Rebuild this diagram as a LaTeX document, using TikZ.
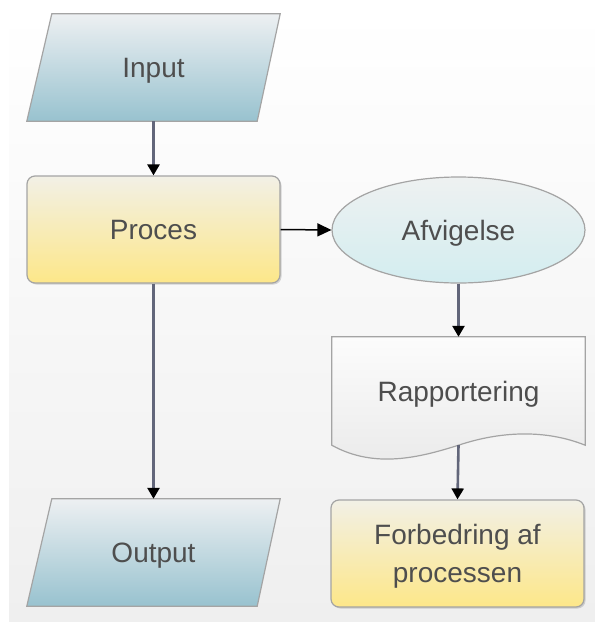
\documentclass[tikz,border=0pt]{standalone}
\usepackage{fontspec}
\setmainfont{Liberation Sans}
\usetikzlibrary{arrows.meta,shapes.geometric,shadows,backgrounds}

\definecolor{panelTop}{HTML}{FFFFFF}
\definecolor{panelBot}{HTML}{EFEFEF}
\definecolor{ioTop}{HTML}{EDF0F2}
\definecolor{ioBot}{HTML}{98C2CF}
\definecolor{procTop}{HTML}{F2F0E6}
\definecolor{procBot}{HTML}{FDE789}
\definecolor{ellTop}{HTML}{EEF1F1}
\definecolor{ellBot}{HTML}{D3EDF0}
\definecolor{docTop}{HTML}{FCFCFC}
\definecolor{docBot}{HTML}{EAEAEA}
\definecolor{edge}{HTML}{A4A4A4}
\definecolor{txt}{HTML}{4E4E4E}
\definecolor{wire}{HTML}{62667A}

\begin{document}
\begin{tikzpicture}[x=1pt,y=1pt,
  lbl/.style={font=\fontsize{28}{38}\selectfont, text=txt, align=center, inner sep=0pt, text depth=0pt},
  oneline/.style={text height=20pt},
  boxsize/.style={minimum width=253pt, minimum height=107pt},
  iobox/.style={lbl, oneline, boxsize, shape=rectangle},
  procbox/.style={lbl, boxsize, shape=rectangle, rounded corners=8pt, draw=edge, line width=1.2pt,
    top color=procTop, bottom color=procBot,
    drop shadow={shadow xshift=1.5pt, shadow yshift=-1.5pt, opacity=0.25, fill=black!60}},
  termbox/.style={lbl, oneline, shape=ellipse, minimum width=253pt, minimum height=106pt, draw=edge, line width=1.2pt,
    top color=ellTop, bottom color=ellBot},
  docbox/.style={lbl, oneline, minimum width=253pt, minimum height=108pt, shape=rectangle},
  ioshape/.style={draw=edge, line width=1.2pt, top color=ioTop, bottom color=ioBot},
  docshape/.style={draw=edge, line width=1.2pt, top color=docTop, bottom color=docBot},
  flow/.style={draw=wire, line width=2.6pt, -{Triangle[length=11pt,width=12pt,color=black]}},
  thinflow/.style={draw=black, line width=1.5pt, -{Triangle[length=14pt,width=13pt,color=black]}}
]
\useasboundingbox (0,0) rectangle (595,-622);

% backdrop panel
\begin{scope}[on background layer]
  \shade[top color=panelTop, bottom color=panelBot] (9,-9) rectangle (595,-622);
\end{scope}

% nodes
\node[iobox]           (input)  at (153.5,-67.5)  {Input};
\node[procbox,oneline] (proces) at (153.5,-229.5) {Proces};
\node[termbox]         (afv)    at (458.5,-230)   {Afvigelse};
\node[docbox]          (rap)    at (458.5,-391)   {Rapportering};
\node[procbox]         (forb)   at (457.5,-553.5) {Forbedring af\\processen};
\node[iobox]           (output) at (153.5,-552.5) {Output};

% parallelograms and document outline behind the labels
\begin{scope}[on background layer]
  \path[ioshape] ([xshift=25pt]input.north west) -- (input.north east)
    -- ([xshift=-23pt]input.south east) -- (input.south west) -- cycle;
  \path[ioshape] ([xshift=25pt]output.north west) -- (output.north east)
    -- ([xshift=-23pt]output.south east) -- (output.south west) -- cycle;
  \path[docshape] (rap.south west) -- (rap.north west) -- (rap.north east) -- (rap.south east)
    .. controls +(-40,16) and +(42,14) .. (rap.south)
    .. controls +(-38,-12) and +(43,-24) .. (rap.south west) -- cycle;
\end{scope}

% connectors
\draw[flow] (input.south) -- (proces.north);
\draw[thinflow] (proces.east) -- (afv.west);
\draw[flow] (afv.south) -- (rap.north);
\draw[flow] (rap.south) -- (forb.north);
\draw[flow] (proces.south) -- (output.north);
\end{tikzpicture}
\end{document}
